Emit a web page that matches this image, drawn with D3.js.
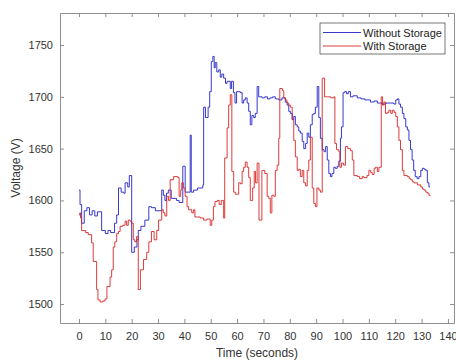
<!DOCTYPE html>
<html>
<head>
<meta charset="utf-8">
<script src="https://cdn.jsdelivr.net/npm/d3@7"></script>
<style>
  body { margin: 0; background: #fff; }
  text { font-family: "Liberation Sans", Arial, sans-serif; }
</style>
</head>
<body>
<div id="chart"></div>
<script>
// step breakpoints (time in s, voltage in V)
const withoutStorageTime = [0, 0.4, 1, 2, 3, 4, 5, 6, 7, 8.6, 10, 11, 12, 13.5, 14.3, 15, 16, 17, 17.5, 18.5, 19.1,
  20, 21, 22, 22.5, 23.5, 25, 26.5, 27.5, 29, 31.4, 32, 32.6, 33.2, 33.9, 35, 37, 38, 39.4, 40.3, 42.2, 42.6,
  43.5, 45, 47, 47.3, 48, 49, 49.6, 50.2, 50.8, 51.3, 51.7, 52.3, 53, 53.6, 54.2, 54.9, 55.6, 56.2, 57.4, 57.9,
  58.6, 59.2, 59.8, 61.2, 61.9, 62.5, 63.1, 63.8, 64.4, 65, 65.6, 66.3, 66.9, 67.6, 68.2, 69.5, 70.5, 71.5,
  72.5, 73.5, 74.5, 75.8, 77, 78.3, 79, 79.6, 80.2, 80.9, 81.5, 82.1, 82.8, 83.4, 84, 84.7, 85.3, 86, 86.6,
  87.2, 87.8, 88.5, 89.1, 89.7, 90.4, 91, 91.6, 92.3, 93, 93.6, 94.2, 94.8, 95.4, 96, 96.7, 97.3, 98, 98.6,
  99.2, 99.6, 100.2, 100.8, 101.5, 102.2, 103, 104, 105.6, 107, 108.5, 110.6, 112, 113.2, 115, 116.5, 118.3,
  119.5, 120.2, 120.8, 121.4, 122, 122.7, 123.3, 124, 124.6, 125.2, 125.8, 126.4, 127, 127.6, 128.3, 129,
  129.7, 130.3, 131, 131.6, 132.2, 132.8, 133.2];
const withoutStorageVolts = [1610, 1596, 1578, 1590, 1593, 1586, 1590, 1585, 1589, 1571, 1568, 1571, 1569, 1578, 1586, 1612, 1608, 1607, 1617, 1613, 1624,
  1550, 1555, 1562, 1571, 1575, 1581, 1594, 1593, 1590, 1610, 1605, 1600, 1607, 1610, 1602, 1600, 1598, 1633, 1608, 1663, 1608,
  1610, 1612, 1615, 1690, 1680, 1690, 1705, 1734, 1739, 1728, 1733, 1724, 1726, 1719, 1722, 1718, 1713, 1715, 1708, 1715,
  1704, 1694, 1705, 1704, 1694, 1697, 1699, 1694, 1686, 1673, 1682, 1680, 1684, 1710, 1700, 1699, 1700, 1698,
  1699, 1700, 1698, 1697, 1699, 1695, 1692, 1686, 1684, 1678, 1681, 1673, 1671, 1667, 1665, 1657, 1650, 1655, 1665,
  1661, 1673, 1683, 1684, 1690, 1710, 1680, 1660, 1649, 1647, 1652, 1639, 1626, 1623, 1626, 1632, 1631, 1633, 1638,
  1660, 1671, 1704, 1705, 1703, 1705, 1700, 1701, 1699, 1698, 1697, 1695, 1696, 1694, 1693, 1694, 1694,
  1693, 1697, 1698, 1693, 1690, 1684, 1679, 1671, 1668, 1658, 1649, 1639, 1629, 1623, 1621, 1623,
  1629, 1631, 1630, 1629, 1617, 1613, 1613];

const withStorageTime = [0, 0.3, 0.6, 1, 2.5, 3.5, 4.8, 5.4, 6.7, 7.2, 8, 9, 9.9, 10.6, 11.8, 12.4, 13, 13.6, 14.3,
  15, 15.6, 16.5, 17.5, 18.1, 18.7, 19.4, 20, 20.6, 21.2, 21.8, 22.5, 23.3, 24.5, 25.7, 26.5, 27.5, 28.5, 29.5,
  30.2, 31.4, 32, 32.6, 33.3, 34, 34.6, 35.9, 37.5, 38, 38.6, 39, 39.6, 40.3, 41, 41.6, 42.8, 43.5, 44, 46, 47.3,
  48.5, 49.8, 50.4, 51, 51.6, 52.5, 53.2, 54, 54.9, 55.3, 56.2, 56.8, 57.4, 58, 58.7, 59.3, 60.6, 61.3, 61.9,
  62.5, 63.1, 63.8, 64.4, 65, 65.9, 66.5, 67, 67.6, 68.3, 69.4, 70.5, 71.4, 72, 72.6, 73.2, 73.9, 74.5, 75.2,
  75.8, 76.2, 77.2, 77.7, 78.3, 78.9, 79.6, 80.2, 80.9, 81.5, 82.1, 82.8, 83.4, 84, 84.7, 85.3, 86, 86.6, 87.2,
  87.8, 88.5, 89.1, 89.7, 90.3, 91, 91.6, 92.3, 93.2, 94.2, 95.5, 96.7, 97.1, 97.7, 98.6, 99, 99.6, 100.4,
  101.1, 102, 103, 103.7, 104.3, 105.6, 106.5, 107.5, 108.1, 109.3, 110, 110.7, 111.3, 112, 112.5, 113.2,
  113.8, 114.7, 115.2, 115.7, 116.3, 117, 117.6, 118.3, 118.9, 119.6, 120.2, 120.8, 121.4, 122, 122.7, 123.3,
  124.6, 125.3, 125.9, 126.5, 127.1, 128.4, 129.7, 130.3, 130.9, 131.6, 132.2, 132.8, 133.2];
const withStorageVolts = [1586, 1588, 1583, 1571, 1569, 1567, 1559, 1541, 1514, 1504, 1502, 1503, 1505, 1517, 1526, 1533, 1555, 1560, 1568,
  1570, 1575, 1576, 1580, 1576, 1581, 1580, 1578, 1562, 1560, 1565, 1514, 1533, 1543, 1550, 1560, 1570, 1562, 1571,
  1581, 1591, 1588, 1585, 1604, 1600, 1620, 1623, 1622, 1604, 1610, 1617, 1612, 1604, 1594, 1591, 1588, 1591, 1584, 1583, 1581,
  1582, 1576, 1581, 1594, 1599, 1600, 1596, 1600, 1583, 1641, 1670, 1692, 1702, 1628, 1608, 1606, 1617, 1616, 1628,
  1632, 1637, 1632, 1622, 1600, 1612, 1628, 1617, 1636, 1581, 1629, 1626, 1604, 1602, 1588, 1605, 1604, 1629, 1634,
  1660, 1708, 1706, 1699, 1697, 1694, 1692, 1690, 1678, 1658, 1642, 1629, 1630, 1623, 1629, 1617, 1614, 1629, 1639,
  1661, 1612, 1597, 1594, 1612, 1610, 1608, 1718, 1700, 1700, 1699, 1700, 1655, 1649, 1647, 1632, 1636, 1634,
  1652, 1650, 1648, 1639, 1624, 1623, 1621, 1623, 1622, 1624, 1629, 1627, 1625, 1631, 1632, 1628,
  1632, 1700, 1692, 1695, 1684, 1685, 1687, 1684, 1687, 1685, 1681, 1671, 1658, 1649, 1629, 1624,
  1623, 1621, 1620, 1618, 1617, 1615, 1613, 1611, 1610, 1608, 1607, 1605, 1604];

const xTicks = [0, 10, 20, 30, 40, 50, 60, 70, 80, 90, 100, 110, 120, 130, 140];
const yTicks = [1500, 1550, 1600, 1650, 1700, 1750];
const seriesNames = ["Without Storage", "With Storage"];
const seriesColors = ["#2323c8", "#d92626"];

const W = 456, H = 360;
const margin = { top: 13, right: 2, bottom: 37, left: 60 };
const plotW = W - margin.left - margin.right;
const plotH = H - margin.top - margin.bottom;
const axisColor = "#8f8f8f";
const textColor = "#333";

const svg = d3.select("#chart").append("svg")
  .attr("width", W)
  .attr("height", H);

const x = d3.scaleLinear().domain([-7.2, 142.3]).range([0, plotW]);
const y = d3.scaleLinear().domain([1481.7, 1780.9]).range([plotH, 0]);

const g = svg.append("g")
  .attr("transform", "translate(" + margin.left + "," + margin.top + ")");

svg.append("defs").append("clipPath").attr("id", "clip")
  .append("rect").attr("width", plotW).attr("height", plotH);

function styleAxis(sel, showText) {
  sel.select(".domain").attr("stroke", axisColor);
  sel.selectAll(".tick line").attr("stroke", axisColor);
  sel.selectAll(".tick text")
    .attr("fill", textColor)
    .style("font-size", "11px")
    .style("display", showText ? null : "none");
  sel.attr("font-family", null);
}

g.append("g")
  .attr("transform", "translate(0," + plotH + ")")
  .call(d3.axisBottom(x).tickValues(xTicks).tickSizeInner(-4).tickSizeOuter(0).tickPadding(9))
  .call(s => styleAxis(s, true));

g.append("g")
  .call(d3.axisTop(x).tickValues(xTicks).tickSizeInner(-4).tickSizeOuter(0))
  .call(s => styleAxis(s, false));

g.append("g")
  .call(d3.axisLeft(y).tickValues(yTicks).tickFormat(d3.format("d")).tickSizeInner(-4).tickSizeOuter(0).tickPadding(7))
  .call(s => styleAxis(s, true));

g.append("g")
  .attr("transform", "translate(" + plotW + ",0)")
  .call(d3.axisRight(y).tickValues(yTicks).tickSizeInner(-4).tickSizeOuter(0))
  .call(s => styleAxis(s, false));

const line = d3.line()
  .x(d => x(d[0]))
  .y(d => y(d[1]))
  .curve(d3.curveStepAfter);

const series = [
  d3.zip(withoutStorageTime, withoutStorageVolts),
  d3.zip(withStorageTime, withStorageVolts)
];

g.append("g").attr("clip-path", "url(#clip)")
  .selectAll("path")
  .data(series)
  .join("path")
  .attr("fill", "none")
  .attr("stroke", (d, i) => seriesColors[i])
  .attr("stroke-width", 0.9)
  .attr("d", line);

// axis labels
svg.append("text")
  .attr("x", margin.left + plotW / 2)
  .attr("y", 357)
  .attr("text-anchor", "middle")
  .attr("fill", textColor)
  .style("font-size", "12px")
  .text("Time (seconds)");

svg.append("text")
  .attr("transform", "translate(20," + (margin.top + plotH / 2) + ") rotate(-90)")
  .attr("text-anchor", "middle")
  .attr("fill", textColor)
  .style("font-size", "12px")
  .text("Voltage (V)");

// legend
const legend = svg.append("g").attr("transform", "translate(320,23)");
legend.append("rect")
  .attr("width", 125).attr("height", 31)
  .attr("fill", "#fff")
  .attr("stroke", "#555")
  .attr("stroke-width", 0.8);

seriesNames.forEach((name, i) => {
  const row = legend.append("g").attr("transform", "translate(0," + (9.5 + i * 13.5) + ")");
  row.append("line")
    .attr("x1", 3).attr("x2", 41)
    .attr("stroke", seriesColors[i])
    .attr("stroke-width", 0.9);
  row.append("text")
    .attr("x", 43).attr("y", 4)
    .attr("fill", "#222")
    .style("font-size", "11px")
    .text(name);
});
</script>
</body>
</html>
